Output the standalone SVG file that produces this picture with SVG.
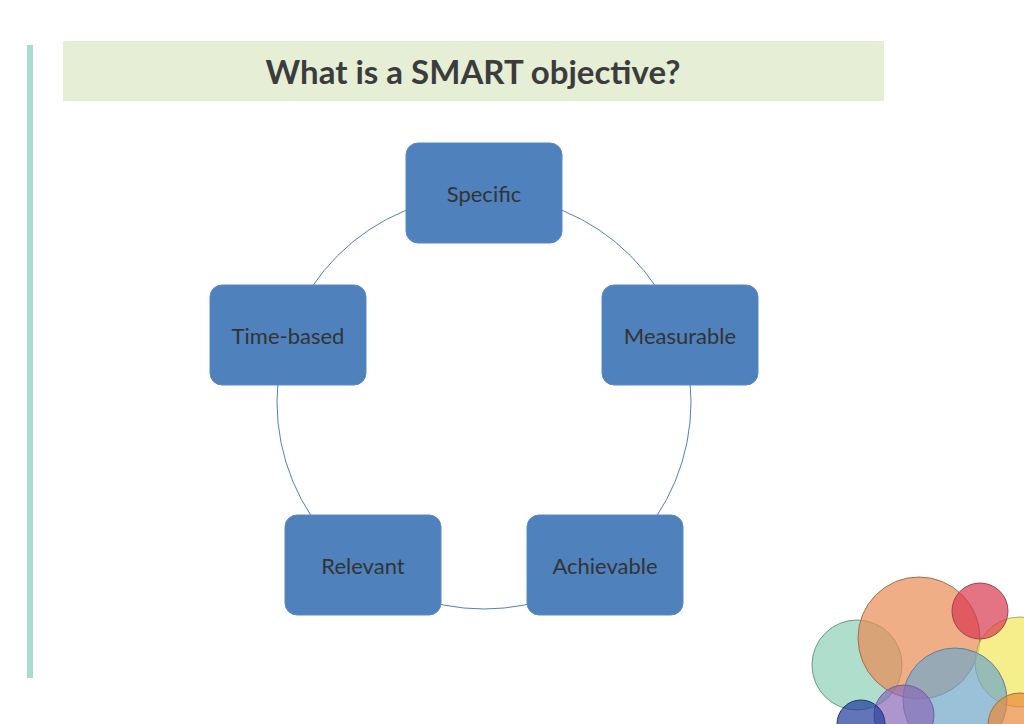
<svg xmlns="http://www.w3.org/2000/svg" width="1024" height="724" viewBox="0 0 1024 724">
<style>
.n rect{fill:#4f81bd;stroke:#5b8ac4;stroke-width:1}
.n text{font-family:Lato,"Open Sans",sans-serif;font-size:22px;fill:#333;text-anchor:middle;dominant-baseline:central}
.b{stroke-width:1;fill-opacity:0.7}
</style>
<rect width="1024" height="724" fill="#fff"/>
<rect x="27" y="45" width="6" height="633" fill="#a8dccf"/>
<rect x="63" y="41" width="821" height="60" fill="#e6efd6"/>
<text x="473" y="84" font-family="Lato,'Open Sans',sans-serif" font-weight="bold" font-size="33" fill="#3c3c3c" text-anchor="middle">What is a SMART objective?</text>
<g id="connectors"><circle cx="484" cy="402" r="207" fill="none" stroke="#4f81bd" stroke-width="1"/></g>
<g id="specific" class="n"><rect x="406" y="143" width="156" height="100" rx="12"/><text x="484" y="193">Specific</text></g>
<g id="measurable" class="n"><rect x="602" y="285" width="156" height="100" rx="12"/><text x="680" y="335">Measurable</text></g>
<g id="achievable" class="n"><rect x="527" y="515" width="156" height="100" rx="12"/><text x="605" y="565">Achievable</text></g>
<g id="relevant" class="n"><rect x="285" y="515" width="156" height="100" rx="12"/><text x="363" y="565">Relevant</text></g>
<g id="timebased" class="n"><rect x="210" y="285" width="156" height="100" rx="12"/><text x="288" y="335">Time-based</text></g>
<g id="bubbles">
<circle class="b" cx="857" cy="665" r="45" fill="#8fd0b8" stroke="#6a9a88"/>
<circle class="b" cx="919" cy="638" r="61" fill="#e98c52" stroke="#a07050"/>
<circle class="b" cx="1020" cy="662" r="45" fill="#f2e55a" stroke="#b0a860"/>
<circle class="b" cx="980" cy="611" r="28" fill="#d9384f" stroke="#a04050"/>
<circle class="b" cx="955" cy="700" r="52" fill="#6fa6c8" stroke="#6080a0"/>
<circle class="b" cx="904" cy="715" r="30" fill="#8a6ab8" stroke="#7060a0"/>
<circle class="b" cx="861" cy="724" r="24" fill="#1f3a9a" stroke="#203080"/>
<circle class="b" cx="1020" cy="725" r="32" fill="#e9893a" stroke="#a07040"/>
</g>
</svg>
